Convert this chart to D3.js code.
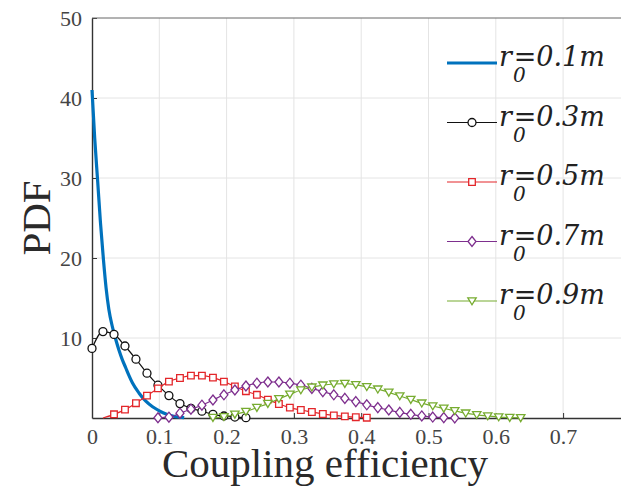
<!DOCTYPE html>
<html>
<head>
<meta charset="utf-8">
<script src="https://cdn.jsdelivr.net/npm/d3@7"></script>
<style>
body { margin: 0; background: #fff; }
</style>
</head>
<body>
<script>
const width = 621, height = 493;

// tick labels
const xTicks = [0, 0.1, 0.2, 0.3, 0.4, 0.5, 0.6, 0.7];
const yTicks = [10, 20, 30, 40, 50];

// r0 = 0.1 m (solid line, no markers)
const r01X = [0, 0.004, 0.0085, 0.0125, 0.017, 0.021, 0.025, 0.03, 0.035, 0.04, 0.045, 0.05, 0.055, 0.06, 0.07, 0.08, 0.09, 0.1, 0.11, 0.12, 0.13, 0.137];
const r01Y = [41, 35, 29.5, 24.5, 19.8, 16.2, 13.6, 11.5, 9.9, 8.5, 7.3, 6.3, 5.3, 4.4, 3.1, 2.1, 1.4, 0.9, 0.5, 0.25, 0.1, 0.04];

// r0 = 0.3 m
const r03X = [0, 0.0163, 0.0327, 0.049, 0.0653, 0.0817, 0.098, 0.1143, 0.1307, 0.147, 0.1633, 0.1797, 0.196, 0.2123, 0.2287];
const r03Y = [8.7, 10.8, 10.45, 9.0, 7.35, 5.6, 4.1, 2.8, 1.8, 1.2, 0.85, 0.45, 0.25, 0.12, 0.04];

// r0 = 0.5 m
const r05X = [0.0163, 0.0327, 0.049, 0.0653, 0.0817, 0.098, 0.1143, 0.1307, 0.147, 0.1633, 0.1797, 0.196, 0.2123, 0.2287, 0.245, 0.2613, 0.2777, 0.294, 0.3103, 0.3267, 0.343, 0.3593, 0.3757, 0.392, 0.4083];
const r05Y = [0, 0.46, 1.05, 1.85, 2.8, 3.7, 4.55, 5.0, 5.3, 5.3, 5.05, 4.55, 3.95, 3.35, 2.9, 2.3, 1.75, 1.3, 1.0, 0.75, 0.5, 0.33, 0.2, 0.1, 0.04];

// r0 = 0.7 m
const r07X = [0.098, 0.1143, 0.1307, 0.147, 0.1633, 0.1797, 0.196, 0.2123, 0.2287, 0.245, 0.2613, 0.2777, 0.294, 0.3103, 0.3267, 0.343, 0.3593, 0.3757, 0.392, 0.4083, 0.4247, 0.441, 0.4573, 0.4737, 0.49, 0.5063, 0.5227, 0.539];
const r07Y = [0.03, 0.1, 0.6, 1.1, 1.6, 2.25, 2.9, 3.5, 4.0, 4.35, 4.5, 4.5, 4.35, 4.1, 3.7, 3.3, 2.9, 2.45, 2.05, 1.65, 1.3, 1.0, 0.7, 0.46, 0.26, 0.12, 0.05, 0.02];

// r0 = 0.9 m
const r09X = [0.1797, 0.196, 0.2123, 0.2287, 0.245, 0.2613, 0.2777, 0.294, 0.3103, 0.3267, 0.343, 0.3593, 0.3757, 0.392, 0.4083, 0.4247, 0.441, 0.4573, 0.4737, 0.49, 0.5063, 0.5227, 0.539, 0.5553, 0.5717, 0.588, 0.6043, 0.6207, 0.637];
const r09Y = [0.05, 0.15, 0.45, 0.8, 1.3, 1.8, 2.4, 2.95, 3.5, 3.85, 4.1, 4.25, 4.3, 4.15, 3.9, 3.6, 3.2, 2.75, 2.3, 1.85, 1.5, 1.2, 0.9, 0.6, 0.4, 0.25, 0.12, 0.05, 0.02];

const legendLabels = ['0.1', '0.3', '0.5', '0.7', '0.9'];

const series = [
  { xs: r01X, ys: r01Y, color: '#0072bd', width: 3.2, marker: null },
  { xs: r03X, ys: r03Y, color: '#111111', width: 1.2, marker: 'circle' },
  { xs: r05X, ys: r05Y, color: '#e3262a', width: 1.2, marker: 'square' },
  { xs: r07X, ys: r07Y, color: '#7e2f8e', width: 1.2, marker: 'diamond' },
  { xs: r09X, ys: r09Y, color: '#77ac30', width: 1.2, marker: 'triangle' }
];

const serif = '"Liberation Serif", "Times New Roman", serif';

const x = d3.scaleLinear().domain([0, 0.8]).range([92, 92 + 0.8 * 673]);
const y = d3.scaleLinear().domain([0, 50]).range([418, 18]);

const svg = d3.select('body').append('svg')
  .attr('width', width)
  .attr('height', height);

// grid
svg.append('g').selectAll('line')
  .data(xTicks.filter(d => d > 0))
  .join('line')
  .attr('x1', d => x(d)).attr('x2', d => x(d))
  .attr('y1', y(0)).attr('y2', y(50))
  .attr('stroke', '#e4e4e4').attr('stroke-width', 1);

svg.append('g').selectAll('line')
  .data(yTicks.filter(d => d < 50))
  .join('line')
  .attr('x1', x(0)).attr('x2', width)
  .attr('y1', d => y(d)).attr('y2', d => y(d))
  .attr('stroke', '#e4e4e4').attr('stroke-width', 1);

// axes (MATLAB style, ticks inside)
const xAxis = svg.append('g')
  .attr('transform', `translate(0,${y(0)})`)
  .attr('font-family', serif)
  .call(d3.axisBottom(x).tickValues(xTicks).tickSizeInner(-5).tickSizeOuter(0).tickPadding(10)
    .tickFormat(d => d === 0 ? '0' : d3.format('.1f')(d)));
xAxis.attr('font-family', serif);
xAxis.select('.domain').attr('stroke', '#333').attr('stroke-width', 1.4);
xAxis.selectAll('.tick line').attr('stroke', '#333');
xAxis.selectAll('.tick text')
  .attr('font-size', 22).attr('fill', '#444');

const yAxis = svg.append('g')
  .attr('transform', `translate(${x(0)},0)`)
  .call(d3.axisLeft(y).tickValues(yTicks).tickSizeInner(-5).tickSizeOuter(0).tickPadding(10));
yAxis.attr('font-family', serif);
yAxis.select('.domain').attr('stroke', '#333').attr('stroke-width', 1.4);
yAxis.selectAll('.tick line').attr('stroke', '#333');
yAxis.selectAll('.tick text')
  .attr('font-size', 22).attr('fill', '#444');

// top box line
svg.append('line')
  .attr('x1', x(0)).attr('x2', width)
  .attr('y1', y(50)).attr('y2', y(50))
  .attr('stroke', '#666').attr('stroke-width', 1);

// markers
function markerPath(type) {
  if (type === 'circle') return d3.symbol(d3.symbolCircle, 50)();
  if (type === 'square') return 'M-3.3,-3.3H3.3V3.3H-3.3Z';
  if (type === 'diamond') return 'M0,-5L4,0L0,5L-4,0Z';
  if (type === 'triangle') return 'M-4.2,-3.2H4.2L0,3.8Z';
  return null;
}

const line = d3.line()
  .curve(d3.curveMonotoneX)
  .x(d => x(d[0]))
  .y(d => y(d[1]));

series.forEach(s => {
  const pts = s.xs.map((v, i) => [v, s.ys[i]]);
  const g = svg.append('g');
  g.append('path')
    .datum(pts)
    .attr('d', line)
    .attr('fill', 'none')
    .attr('stroke', s.color)
    .attr('stroke-width', s.width)
    .attr('stroke-linejoin', 'round');
  if (s.marker) {
    g.selectAll('path.mk')
      .data(pts.filter(d => d[1] > 0))
      .join('path')
      .attr('class', 'mk')
      .attr('d', markerPath(s.marker))
      .attr('transform', d => `translate(${x(d[0])},${y(d[1])})`)
      .attr('fill', '#fff')
      .attr('stroke', s.color)
      .attr('stroke-width', 1.3);
  }
});

// axis labels
svg.append('text')
  .attr('x', 325).attr('y', 477)
  .attr('text-anchor', 'middle')
  .attr('font-family', serif)
  .attr('font-size', 41)
  .attr('fill', '#2a2a2a')
  .text('Coupling efficiency');

svg.append('text')
  .attr('transform', 'translate(50,218) rotate(-90)')
  .attr('text-anchor', 'middle')
  .attr('font-family', serif)
  .attr('font-size', 41)
  .attr('fill', '#2a2a2a')
  .text('PDF');

// legend
const legendFont = '"DejaVu Serif", serif';
const legend = svg.append('g');
series.forEach((s, i) => {
  const ly = 63 + i * 59.5;
  const row = legend.append('g').attr('transform', `translate(0,${ly})`);
  row.append('line')
    .attr('x1', 447).attr('x2', 497)
    .attr('stroke', s.color)
    .attr('stroke-width', s.width);
  if (s.marker) {
    row.append('path')
      .attr('d', markerPath(s.marker))
      .attr('transform', 'translate(472,0)')
      .attr('fill', '#fff')
      .attr('stroke', s.color)
      .attr('stroke-width', 1.3);
  }
  const t = row.append('text')
    .attr('x', 499).attr('y', 3)
    .attr('font-family', legendFont).attr('font-style', 'italic')
    .attr('font-size', 27).attr('fill', '#222');
  t.append('tspan').text('r');
  t.append('tspan').attr('dx', 1).attr('dy', 16).attr('font-size', 20).text('0');
  t.append('tspan').attr('dx', -12).attr('dy', -16).text('=' + legendLabels[i] + 'm');
});
</script>
</body>
</html>
